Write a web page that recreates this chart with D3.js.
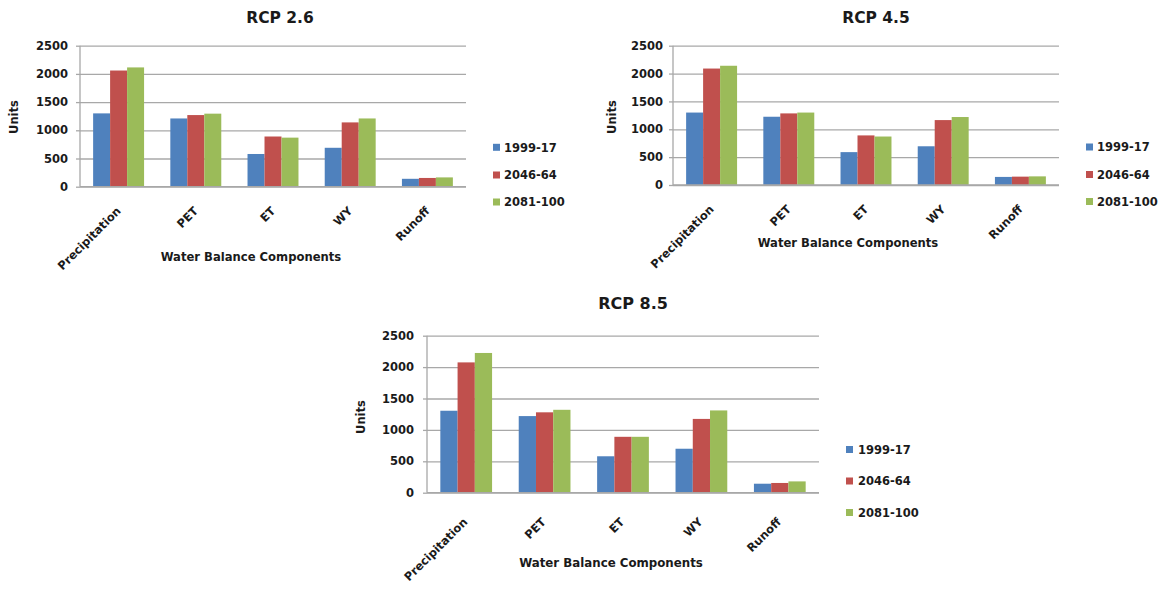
<!DOCTYPE html>
<html>
<head>
<meta charset="utf-8">
<script src="https://cdn.jsdelivr.net/npm/d3@7"></script>
<style>
  html, body { margin: 0; padding: 0; background: #ffffff; }
  svg { display: block; }
  text { font-family: "DejaVu Sans", sans-serif; font-weight: bold; fill: #1a1a1a; }
</style>
</head>
<body>
<svg id="chart" width="1166" height="589"></svg>
<script>
// ---------- data ----------
const categories = ["Precipitation", "PET", "ET", "WY", "Runoff"];
const seriesNames = ["1999-17", "2046-64", "2081-100"];
const seriesColors = ["#4f81bd", "#c0504d", "#9bbb59"];
const yTicks = [0, 500, 1000, 1500, 2000, 2500];

const rcp26_1999 = [1300, 1210, 580, 690, 140];
const rcp26_2046 = [2060, 1270, 890, 1140, 155];
const rcp26_2081 = [2115, 1295, 870, 1210, 165];

const rcp45_1999 = [1300, 1225, 590, 695, 145];
const rcp45_2046 = [2090, 1285, 890, 1165, 150];
const rcp45_2081 = [2140, 1300, 870, 1220, 155];

const rcp85_1999 = [1305, 1220, 580, 700, 143];
const rcp85_2046 = [2075, 1280, 890, 1175, 155];
const rcp85_2081 = [2225, 1320, 890, 1310, 180];

const titles = ["RCP 2.6", "RCP 4.5", "RCP 8.5"];
const xTitle = "Water Balance Components";
const yTitle = "Units";

// ---------- layout ----------
const layouts = [
  { left: 80, right: 466, top: 45.7, bottom: 186.7, pad: 8,
    title: [280, 23, 15.5], units: [14, 117], xt: [251, 257, 11.6],
    lab: [3, 25], leg: [493, 504, [147.3, 175, 202]] },
  { left: 673, right: 1059, top: 45.7, bottom: 185, pad: 6,
    title: [876, 23, 15.5], units: [612, 117], xt: [848, 243, 11.6],
    lab: [3, 25], leg: [1086, 1097, [147, 174.5, 201.5]] },
  { left: 427, right: 819, top: 335.7, bottom: 492.7, pad: 9,
    title: [633, 309, 16], units: [361, 417], xt: [611, 563, 11.8],
    lab: [2, 30], leg: [846, 858, [449.5, 481, 512.5]] }
];

const chartData = [
  [rcp26_1999, rcp26_2046, rcp26_2081],
  [rcp45_1999, rcp45_2046, rcp45_2081],
  [rcp85_1999, rcp85_2046, rcp85_2081]
];

const svg = d3.select("#chart");
const gridColor = "#a8a8a8";

chartData.forEach((seriesVals, ci) => {
  const L = layouts[ci];
  const g = svg.append("g");

  const x0 = d3.scaleBand().domain(categories).range([L.left, L.right])
    .paddingInner(0.34).paddingOuter(0.17);
  const x1 = d3.scaleBand().domain(seriesNames).range([0, x0.bandwidth()]).padding(0);
  const y = d3.scaleLinear().domain([0, 2500]).range([L.bottom, L.top]);

  // gridlines
  const grid = g.append("g").attr("transform", `translate(${L.left},0)`)
    .call(d3.axisLeft(y).tickValues(yTicks).tickSize(-(L.right - L.left)).tickFormat(""));
  grid.select(".domain").remove();
  grid.selectAll("line").attr("stroke", gridColor).attr("stroke-width", 1.3);

  // bars
  seriesVals.forEach((vals, si) => {
    g.append("g").selectAll("rect")
      .data(categories.map((c, i) => ({ c, v: vals[i] })))
      .join("rect")
      .attr("x", d => x0(d.c) + x1(seriesNames[si]))
      .attr("y", d => y(d.v))
      .attr("width", x1.bandwidth())
      .attr("height", d => y(0) - y(d.v))
      .attr("fill", seriesColors[si]);
  });

  // y axis
  const ya = g.append("g").attr("transform", `translate(${L.left},0)`)
    .call(d3.axisLeft(y).tickValues(yTicks).tickSize(4).tickPadding(L.pad).tickFormat(d3.format("d")));
  ya.select(".domain").attr("stroke", gridColor).attr("stroke-width", 1.3).attr("d", `M0,${L.bottom}V${L.top}`);
  ya.selectAll("line").attr("stroke", gridColor).attr("stroke-width", 1.3);
  ya.selectAll("text").style("font-family", "DejaVu Sans").style("font-weight", "bold")
    .style("font-size", "11.5px").attr("fill", "#1a1a1a");

  // x baseline
  g.append("line").attr("x1", L.left).attr("x2", L.right)
    .attr("y1", y(0)).attr("y2", y(0)).attr("stroke", gridColor).attr("stroke-width", 1.3);

  // category labels
  g.append("g").selectAll("text").data(categories).join("text")
    .attr("transform", d => `translate(${x0(d) + x0.bandwidth() / 2 + L.lab[0]},${L.bottom + L.lab[1]}) rotate(-45)`)
    .attr("text-anchor", "end")
    .style("font-size", "11.5px")
    .text(d => d);

  // titles
  g.append("text").attr("x", L.title[0]).attr("y", L.title[1])
    .attr("text-anchor", "middle").style("font-size", L.title[2] + "px").text(titles[ci]);
  g.append("text").attr("transform", `translate(${L.units[0] + 4},${L.units[1]}) rotate(-90)`)
    .attr("text-anchor", "middle").style("font-size", "11.5px").text(yTitle);
  g.append("text").attr("x", L.xt[0]).attr("y", L.xt[1] + 4)
    .attr("text-anchor", "middle").style("font-size", L.xt[2] + "px").text(xTitle);

  // legend
  const lg = g.append("g");
  seriesNames.forEach((s, si) => {
    const cy = L.leg[2][si];
    lg.append("rect").attr("x", L.leg[0]).attr("y", cy - 3.5).attr("width", 7).attr("height", 7)
      .attr("fill", seriesColors[si]);
    lg.append("text").attr("x", L.leg[1]).attr("y", cy + 4.2)
      .style("font-size", "11.5px").text(s);
  });
});
</script>
</body>
</html>
